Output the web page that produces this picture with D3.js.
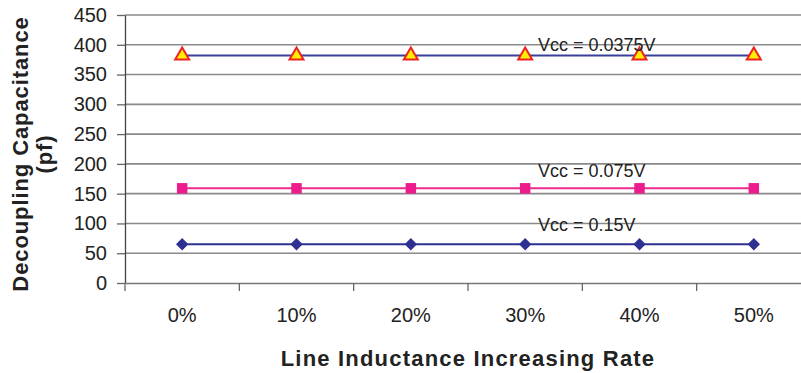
<!DOCTYPE html>
<html>
<head>
<meta charset="utf-8">
<script src="https://cdn.jsdelivr.net/npm/d3@7"></script>
<style>
  body { margin: 0; background: #fff; }
  svg text { font-family: "Liberation Sans", Arial, sans-serif; fill: #222; }
</style>
</head>
<body>
<div id="chart"></div>
<script>
var categories = ['0%', '10%', '20%', '30%', '40%', '50%'];
var vcc0375 = [382, 382, 382, 382, 382, 382];
var vcc075 = [159, 159, 159, 159, 159, 159];
var vcc15 = [65, 65, 65, 65, 65, 65];
var yTicks = [0, 50, 100, 150, 200, 250, 300, 350, 400, 450];

(function () {
  var width = 801, height = 373;
  var plotLeft = 125, plotRight = 811, plotTop = 15, plotBottom = 283;

  var svg = d3.select('#chart').append('svg')
    .attr('width', width)
    .attr('height', height);

  var x = d3.scaleBand().domain(categories).range([plotLeft, plotRight]);
  var y = d3.scaleLinear().domain([0, 450]).range([plotBottom, plotTop]);

  // gridlines
  svg.append('g').selectAll('line')
    .data(yTicks.filter(function (d) { return d > 0; }))
    .enter().append('line')
    .attr('x1', plotLeft).attr('x2', width)
    .attr('y1', function (d) { return y(d); })
    .attr('y2', function (d) { return y(d); })
    .attr('stroke', '#8a8a8a')
    .attr('stroke-width', 1.6);

  // y axis
  var yAxis = svg.append('g')
    .attr('transform', 'translate(' + plotLeft + ',0)')
    .call(d3.axisLeft(y).tickValues(yTicks).tickSize(8).tickPadding(10).tickSizeOuter(0));
  yAxis.select('.domain').attr('stroke', '#444').attr('stroke-width', 1.3);
  yAxis.selectAll('.tick line').attr('stroke', '#666').attr('stroke-width', 1.3);
  yAxis.selectAll('text').style('font-size', '20px').attr('fill', '#222');

  // x axis
  var xAxis = svg.append('g')
    .attr('transform', 'translate(0,' + plotBottom + ')')
    .call(d3.axisBottom(x).tickSize(0).tickPadding(25));
  xAxis.select('.domain').attr('stroke', '#777').attr('stroke-width', 1.6);
  xAxis.selectAll('text').style('font-size', '20px').attr('fill', '#222');
  xAxis.selectAll('.sep')
    .data(categories)
    .enter().append('line')
    .attr('x1', function (d) { return x(d); })
    .attr('x2', function (d) { return x(d); })
    .attr('y1', 0).attr('y2', 8)
    .attr('stroke', '#666').attr('stroke-width', 1.3);

  function cx(d, i) { return x(categories[i]) + x.bandwidth() / 2; }

  var series = [
    { values: vcc0375, line: '#3a3f9a', symbol: d3.symbolTriangle, size: 85, rot: 0, fill: '#ffee00', stroke: '#ee2222', label: 'Vcc = 0.0375V', ly: 44.5 },
    { values: vcc075, line: '#ee2a90', symbol: d3.symbolSquare, size: 110, rot: 0, fill: '#ec1c8c', stroke: 'none', label: 'Vcc = 0.075V', ly: 170.5 },
    { values: vcc15, line: '#2e3192', symbol: d3.symbolSquare, size: 76, rot: 45, fill: '#2e3192', stroke: 'none', label: 'Vcc = 0.15V', ly: 225 }
  ];

  var line = d3.line().x(cx).y(function (d) { return y(d); });

  series.forEach(function (s) {
    svg.append('path')
      .datum(s.values)
      .attr('d', line)
      .attr('fill', 'none')
      .attr('stroke', s.line)
      .attr('stroke-width', 2);
    svg.append('g').selectAll('path')
      .data(s.values)
      .enter().append('path')
      .attr('d', d3.symbol().type(s.symbol).size(s.size))
      .attr('transform', function (d, i) {
        return 'translate(' + cx(d, i) + ',' + y(d) + ') rotate(' + s.rot + ')';
      })
      .attr('fill', s.fill)
      .attr('stroke', s.stroke)
      .attr('stroke-width', 2);
    svg.append('text')
      .attr('x', 538)
      .attr('y', s.ly)
      .attr('dy', '0.35em')
      .style('font-size', '18px')
      .text(s.label);
  });

  // axis titles
  svg.append('text')
    .attr('x', (plotLeft + plotRight) / 2)
    .attr('y', 366)
    .attr('text-anchor', 'middle')
    .style('font-size', '22px')
    .style('font-weight', 'bold')
    .style('letter-spacing', '1.2px')
    .text('Line Inductance Increasing Rate');

  var yt = svg.append('text')
    .attr('transform', 'translate(28,154) rotate(-90)')
    .attr('text-anchor', 'middle')
    .style('font-size', '22px')
    .style('font-weight', 'bold')
    .style('letter-spacing', '0.9px');
  yt.append('tspan').attr('x', 0).attr('y', 0).text('Decoupling Capacitance');
  yt.append('tspan').attr('x', 0).attr('y', 24).text('(pf)');
})();
</script>
</body>
</html>
